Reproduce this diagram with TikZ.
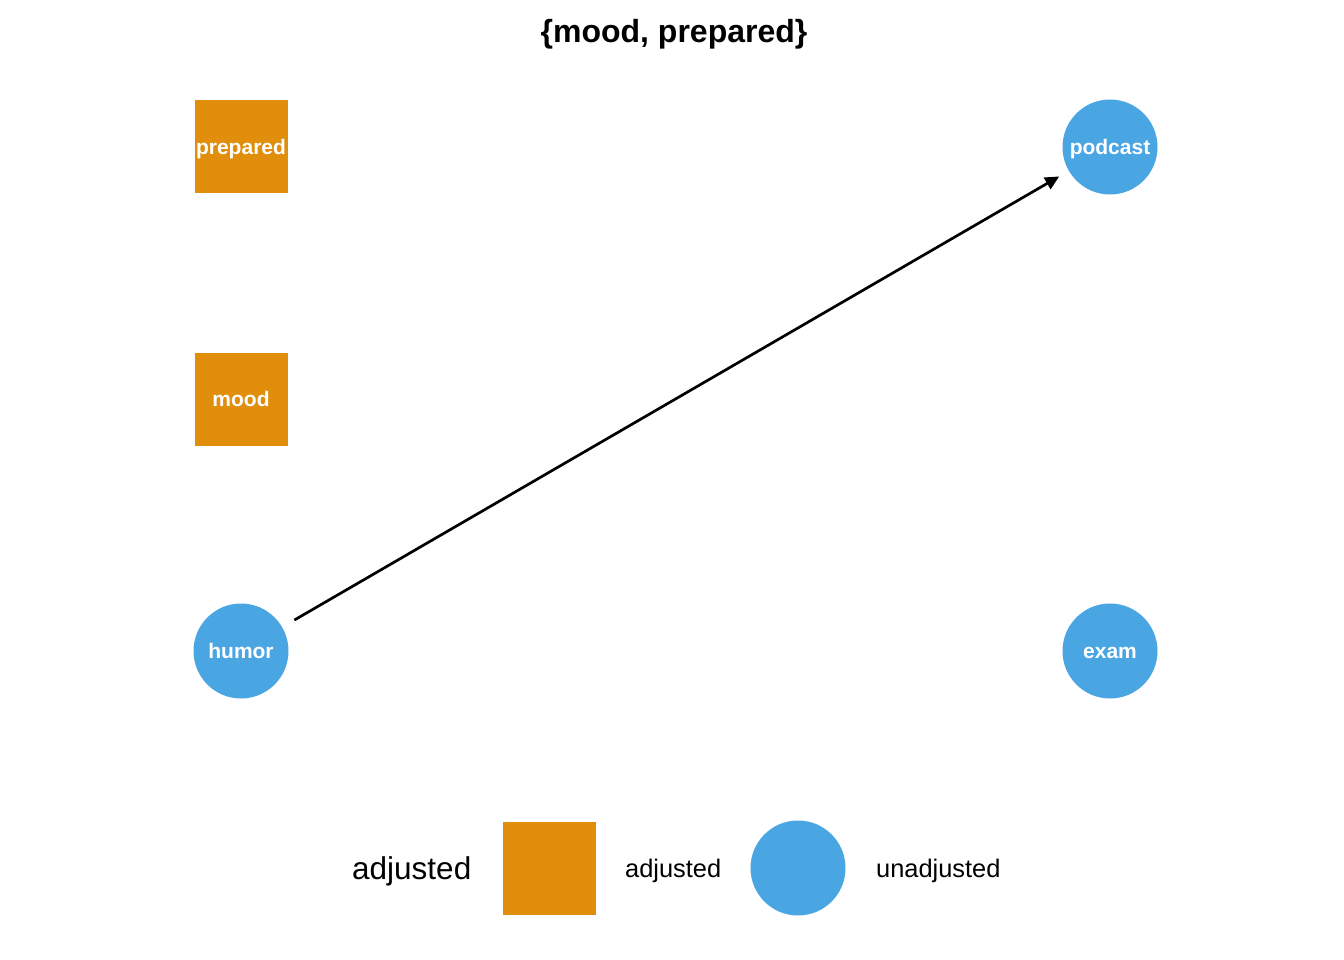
\documentclass[tikz,border=0pt]{standalone}
\usepackage{fontspec}
\setmainfont{Liberation Sans}
\usetikzlibrary{arrows.meta}
\usetikzlibrary{positioning}

\definecolor{adjorange}{RGB}{224,142,11}
\definecolor{unadjblue}{RGB}{74,165,227}

\begin{document}
\begin{tikzpicture}[
x=1pt, y=-1pt,
adjnode/.style={rectangle, fill=adjorange, minimum size=93pt, inner sep=0pt, text=white, text height=15pt, text depth=0pt, font=\fontsize{21}{21}\selectfont\bfseries},
unadjnode/.style={circle, fill=unadjblue, minimum size=95pt, inner sep=0pt, text=white, text height=15pt, text depth=0pt, font=\fontsize{21}{21}\selectfont\bfseries},
leglabel/.style={anchor=west, inner sep=0pt, font=\fontsize{25.4}{25.4}\selectfont},
on grid, node distance=252pt and 869pt
]
\useasboundingbox (0,0) rectangle (1344,960);
\node[anchor=base, font=\fontsize{32}{32}\selectfont\bfseries](title) at (674,43){\{mood, prepared\}};
\node[adjnode](prepared) at (241,147){prepared};
\node[adjnode](mood)[below=of prepared]{mood};
\node[unadjnode](humor)[below=of mood]{humor};
\node[unadjnode](podcast)[right=of prepared]{podcast};
\node[unadjnode](exam)[right=of humor]{exam};
\draw[-{Triangle[length=14pt,width=13pt]}, line width=2.7pt, shorten <=14pt, shorten >=11pt] (humor) -- (podcast);
% legend
\node[anchor=west, inner sep=0pt, font=\fontsize{31.5}{31.5}\selectfont](legtitle) at (352,871){adjusted};
\node[adjnode](legadj) at (549,868){};
\node[leglabel](legadjlab) at (625,871){adjusted};
\node[unadjnode](legunadj) at (798,868){};
\node[leglabel](legunadjlab) at (876,871){unadjusted};
\end{tikzpicture}
\end{document}
